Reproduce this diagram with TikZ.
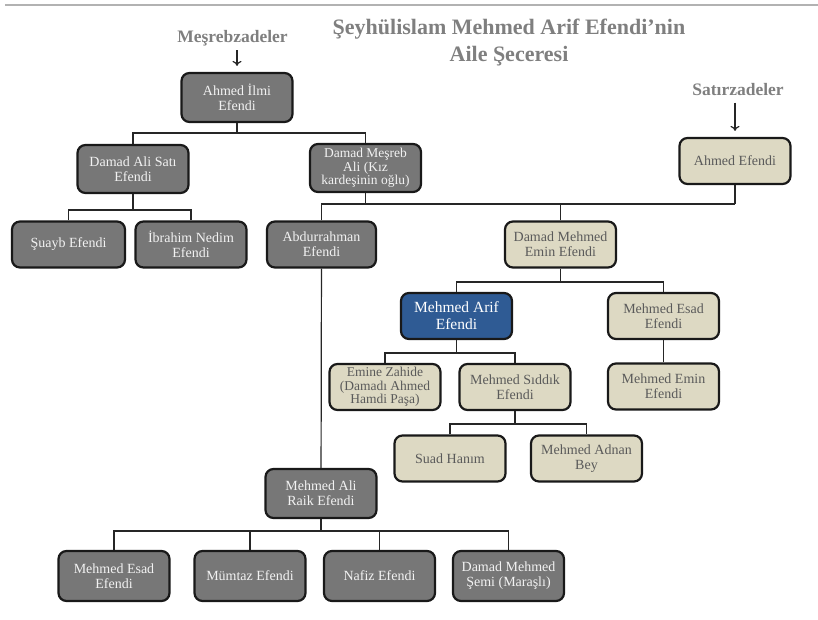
\documentclass[tikz,border=0pt]{standalone}
\usepackage{fontspec}
\setmainfont{Liberation Serif}
\usetikzlibrary{arrows.meta}
\definecolor{darkfill}{HTML}{777777}
\definecolor{darktext}{HTML}{F2F2F2}
\definecolor{tanfill}{HTML}{DDD9C3}
\definecolor{tantext}{HTML}{5A5A5A}
\definecolor{arifblue}{HTML}{2F5B94}
\definecolor{labelgray}{HTML}{7F7F7F}
\begin{document}
\begin{tikzpicture}[x=1pt,y=-1pt]
    \tikzstyle{box}      = [draw=black!90, line width=2.2pt, rounded corners=8pt,
                            minimum width=111pt, minimum height=46pt, inner sep=1pt,
                            align=center, font=\fontsize{14}{15}\selectfont]
    \tikzstyle{dark box} = [box, fill=darkfill, text=darktext]
    \tikzstyle{tan box}  = [box, fill=tanfill, text=tantext]
    \tikzstyle{arif box} = [box, fill=arifblue, text=white, font=\fontsize{15.5}{17}\selectfont]
    \tikzstyle{three}    = [font=\fontsize{13.5}{13.5}\selectfont]
    \tikzstyle{family}   = [text=labelgray, font=\bfseries\fontsize{17.5}{20}\selectfont]
    \tikzstyle{title}    = [text=labelgray, align=center, font=\bfseries\fontsize{22}{27}\selectfont]

    \tikzstyle{edge}     = [-,black!85,line width=1.2pt]
    \tikzstyle{arrow}    = [-{To[length=5pt,width=9pt]},black!85,line width=1.2pt]

    \useasboundingbox (0,0) rectangle (818,620);
    \draw[black!30, line width=1.5pt] (5,5) -- (818,5);

    \node[title]  (title)        at (509,43)  {Şeyhülislam Mehmed Arif Efendi’nin\\Aile Şeceresi};
    \node[family] (mesrebzadeler) at (232.5,38) {Meşrebzadeler};
    \node[family] (satirzadeler)  at (738,90)   {Satırzadeler};

    \node[dark box, minimum height=49pt] (ilmi)        at (237,97.5)  {Ahmed İlmi\\Efendi};
    \node[dark box, minimum height=48pt] (sati)        at (133,169)   {Damad Ali Satı\\Efendi};
    \node[dark box, three, minimum height=48pt] (mesreb) at (365.5,168) {Damad Meşreb\\Ali (Kız\\kardeşinin oğlu)};
    \node[dark box, minimum width=113pt] (suayb)       at (68.5,244.5) {Şuayb Efendi};
    \node[dark box]                      (ibrahim)     at (191,244.5)  {İbrahim Nedim\\Efendi};
    \node[dark box, minimum width=109pt] (abdurrahman) at (321.5,244.5) {Abdurrahman\\Efendi};

    \node[tan box]  (satirahmed) at (735,161)     {Ahmed Efendi};
    \node[tan box]  (emin)       at (560.5,244.5) {Damad Mehmed\\Emin Efendi};
    \node[arif box] (arif)       at (456.5,316)   {Mehmed Arif\\Efendi};
    \node[tan box]  (esad)       at (663.5,316)   {Mehmed Esad\\Efendi};
    \node[tan box]  (emin2)      at (663.5,386.5) {Mehmed Emin\\Efendi};
    \node[tan box, three] (emine) at (385,387)    {Emine Zahide\\(Damadı Ahmed\\Hamdi Paşa)};
    \node[tan box]  (siddik)     at (515,387)     {Mehmed Sıddık\\Efendi};
    \node[tan box]  (suad)       at (450,458.5)   {Suad Hanım};
    \node[tan box]  (adnan)      at (586.5,458.5) {Mehmed Adnan\\Bey};

    \node[dark box, minimum height=49pt] (raik)   at (321,493.5) {Mehmed Ali\\Raik Efendi};
    \node[dark box, minimum height=50pt] (esad2)  at (114,576)   {Mehmed Esad\\Efendi};
    \node[dark box, minimum height=50pt] (mumtaz) at (250,576)   {Mümtaz Efendi};
    \node[dark box, minimum height=50pt] (nafiz)  at (379.5,576) {Nafiz Efendi};
    \node[dark box, minimum height=50pt] (semi)   at (508.5,576) {Damad Mehmed\\Şemi (Maraşlı)};

    \coordinate (j1) at (237,133);
    \coordinate (j2) at (133,210);
    \coordinate (j3) at (365.5,204);
    \coordinate (j4) at (735,204);
    \coordinate (j5) at (560.5,282);
    \coordinate (j6) at (456.5,353);
    \coordinate (j7) at (515,424);
    \coordinate (j8) at (321,531);

    \draw[arrow, shorten <=1pt, shorten >=6pt] (ilmi.north |- mesrebzadeler.south) -- (ilmi.north);
    \draw[arrow, shorten <=3pt, shorten >=6pt] (satirahmed.north |- satirzadeler.south) -- (satirahmed.north);

    \draw[edge] (ilmi.south) -- (j1);
    \draw[edge] (sati.north) |- (j1) -| (mesreb.north);
    \draw[edge] (sati.south) -- (j2);
    \draw[edge] (suayb.north) |- (j2) -| (ibrahim.north);

    \draw[edge] (mesreb.south) -- (j3);
    \draw[edge] (satirahmed.south) -- (j4);
    \draw[edge] (abdurrahman.north) |- (j4);
    \draw[edge] (emin.north) -- (emin.north |- j4);

    \draw[edge] (emin.south) -- (j5);
    \draw[edge] (arif.north) |- (j5) -| (esad.north);
    \draw[edge] (esad) -- (emin2);
    \draw[edge] (arif.south) -- (j6);
    \draw[edge] (emine.north) |- (j6) -| (siddik.north);
    \draw[edge] (siddik.south) -- (j7);
    \draw[edge] (suad.north) |- (j7) -| (adnan.north);

    \draw[edge] (abdurrahman) -- (raik);
    \draw[edge] (raik.south) -- (j8);
    \draw[edge] (esad2.north) |- (j8) -| (semi.north);
    \draw[edge] (mumtaz.north) -- (mumtaz.north |- j8);
    \draw[edge] (nafiz.north) -- (nafiz.north |- j8);
\end{tikzpicture}
\end{document}
